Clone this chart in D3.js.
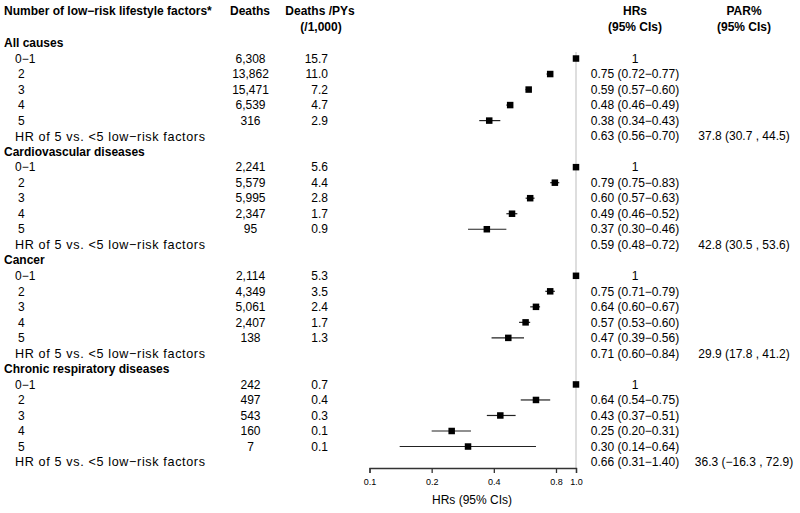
<!DOCTYPE html>
<html><head><meta charset="utf-8">
<script src="https://cdn.jsdelivr.net/npm/d3@7"></script>
<style>
html,body{margin:0;padding:0;background:#fff;}
text{font-family:"Liberation Sans",Arial,Helvetica,sans-serif;fill:#000;}
</style></head>
<body>
<svg id="c" width="800" height="513"></svg>
<script>
const groups = ["All causes","Cardiovascular diseases","Cancer","Chronic respiratory diseases"];
const levels = ["0\u22121","2","3","4","5"];
const deaths = [
  ["6,308","13,862","15,471","6,539","316"],
  ["2,241","5,579","5,995","2,347","95"],
  ["2,114","4,349","5,061","2,407","138"],
  ["242","497","543","160","7"]
];
const rates = [
  ["15.7","11.0","7.2","4.7","2.9"],
  ["5.6","4.4","2.8","1.7","0.9"],
  ["5.3","3.5","2.4","1.7","1.3"],
  ["0.7","0.4","0.3","0.1","0.1"]
];
const hr = [
  [1,0.75,0.59,0.48,0.38],
  [1,0.79,0.60,0.49,0.37],
  [1,0.75,0.64,0.57,0.47],
  [1,0.64,0.43,0.25,0.30]
];
const hrLo = [
  [1,0.72,0.57,0.46,0.34],
  [1,0.75,0.57,0.46,0.30],
  [1,0.71,0.60,0.53,0.39],
  [1,0.54,0.37,0.20,0.14]
];
const hrHi = [
  [1,0.77,0.60,0.49,0.43],
  [1,0.83,0.63,0.52,0.46],
  [1,0.79,0.67,0.60,0.56],
  [1,0.75,0.51,0.31,0.64]
];
const summaryLabel = "HR of 5 vs. <5 low\u2212risk factors";
const summaryHR = ["0.63 (0.56\u22120.70)","0.59 (0.48\u22120.72)","0.71 (0.60\u22120.84)","0.66 (0.31\u22121.40)"];
const summaryPAR = ["37.8 (30.7 , 44.5)","42.8 (30.5 , 53.6)","29.9 (17.8 , 41.2)","36.3 (\u221216.3 , 72.9)"];
const tickVals = [0.1,0.2,0.4,0.8,1.0];

const svg = d3.select("#c");
const x = d3.scaleLog().domain([0.1,1.0]).range([369.5,576]);
const rowY = i => 43 + 15.52*i;
const fmt2 = d3.format(".2f");
const fs = 12;

function txt(xp, yp, s, anchor, bold, size){
  return svg.append("text").attr("x",xp).attr("y",yp).attr("dy","0.35em")
    .attr("text-anchor",anchor||"start")
    .style("font-size",(size||fs)+"px").style("font-weight",bold?"bold":"normal")
    .text(s);
}

// headers
txt(4,11,"Number of low\u2212risk lifestyle factors*","start",true);
txt(250,11,"Deaths","middle",true);
txt(320,11,"Deaths /PYs","middle",true);
txt(321,27,"(/1,000)","middle",true);
txt(635,11,"HRs","middle",true);
txt(635,27,"(95% CIs)","middle",true);
txt(744,11,"PAR%","middle",true);
txt(744,27,"(95% CIs)","middle",true);

// reference line
svg.append("line").attr("x1",x(1)).attr("x2",x(1)).attr("y1",52).attr("y2",468)
  .attr("stroke","#c8c8c8").attr("stroke-width",1.2);

let r = 0;
groups.forEach((g,gi)=>{
  txt(4,rowY(r),g,"start",true);
  r++;
  levels.forEach((lv,li)=>{
    const y = rowY(r);
    txt(lv.length>1?15:18,y,lv,"start",false);
    txt(250.5,y,deaths[gi][li],"middle",false);
    txt(328,y,rates[gi][li],"end",false);
    const h = hr[gi][li];
    const s = h===1 ? "1" : fmt2(h)+" ("+fmt2(hrLo[gi][li])+"\u2212"+fmt2(hrHi[gi][li])+")";
    txt(635,y,s,"middle",false);
    if(h!==1){
      svg.append("line").attr("x1",x(hrLo[gi][li])).attr("x2",x(hrHi[gi][li]))
        .attr("y1",y).attr("y2",y).attr("stroke","#222").attr("stroke-width",1.2);
    }
    svg.append("rect").attr("x",x(h)-3.25).attr("y",y-3.25).attr("width",6.5).attr("height",6.5).attr("fill","#000");
    r++;
  });
  const y = rowY(r);
  txt(15,y,summaryLabel,"start",false,12.6).attr("textLength",190).attr("lengthAdjust","spacing");
  txt(635,y,summaryHR[gi],"middle",false);
  txt(744,y,summaryPAR[gi],"middle",false);
  r++;
});

// axis
const ax = svg.append("g").attr("transform","translate(0,468)")
  .call(d3.axisBottom(x).tickValues(tickVals).tickFormat(d3.format(".1f")).tickSizeOuter(0).tickSize(5).tickPadding(6));
ax.select(".domain").attr("stroke","#333").attr("stroke-width",1.3);
ax.selectAll(".tick line").attr("stroke","#333").attr("stroke-width",1.3);
ax.selectAll(".tick text").style("font-family","'Liberation Sans',Arial,sans-serif").style("font-size","9px").attr("fill","#000");
svg.append("text").attr("x",472).attr("y",500).attr("dy","0.35em").attr("text-anchor","middle")
  .style("font-size","12px").text("HRs (95% CIs)");
</script>
</body></html>
